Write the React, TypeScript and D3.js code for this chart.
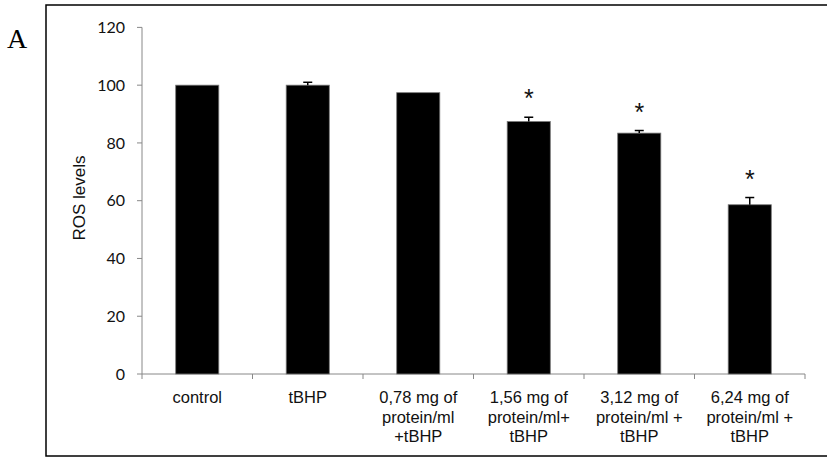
import React from "react";
import * as d3 from "d3";

const categories: string[][] = [
  ["control"],
  ["tBHP"],
  ["0,78 mg of", "protein/ml", "+tBHP"],
  ["1,56 mg of", "protein/ml+", "tBHP"],
  ["3,12 mg of", "protein/ml +", "tBHP"],
  ["6,24 mg of", "protein/ml +", "tBHP"],
];
const values = [100, 100, 97.4, 87.4, 83.4, 58.6];
const errors = [0, 1, 0, 1.5, 0.9, 2.5];
const significant = [false, false, false, true, true, true];
const yTicks = [0, 20, 40, 60, 80, 100, 120];

export default function App() {
  const W = 827, H = 461;
  const x0 = 142, x1 = 805, yTop = 27.4, yBot = 374;
  const x = d3.scaleBand<number>().domain(d3.range(categories.length)).range([x0, x1]).paddingInner(0.61).paddingOuter(0.305);
  const y = d3.scaleLinear().domain([0, 120]).range([yBot, yTop]);
  const step = (x1 - x0) / categories.length;
  const axisColor = "#888";
  return (
    <svg width={W} height={H} style={{ position: "absolute", left: 0, top: 0 }}>
      <rect x={0} y={0} width={W} height={H} fill="#fff" />
      <rect x={46} y={5} width={W} height={451} fill="none" stroke="#000" strokeWidth={1.5} />
      <text x={7} y={48} fontFamily="Liberation Serif, serif" fontSize={28}>A</text>
      {/* y axis */}
      <line x1={x0} x2={x0} y1={yTop} y2={yBot} stroke={axisColor} strokeWidth={1} />
      {yTicks.map((t) => (
        <g key={t}>
          <line x1={x0 - 5} x2={x0} y1={y(t)} y2={y(t)} stroke={axisColor} />
          <text x={125} y={y(t)} dy="0.36em" textAnchor="end" fontFamily="Lato, Open Sans, sans-serif" fontSize={16} fill="#111">{t}</text>
        </g>
      ))}
      <text transform={`translate(85,${198}) rotate(-90)`} textAnchor="middle" fontFamily="Liberation Sans, Arial, sans-serif" fontSize={17} fill="#111">ROS levels</text>
      {/* x axis */}
      <line x1={x0} x2={x1} y1={yBot} y2={yBot} stroke={axisColor} />
      {d3.range(categories.length + 1).map((i) => (
        <line key={i} x1={x0 + i * step} x2={x0 + i * step} y1={yBot} y2={yBot + 5} stroke={axisColor} />
      ))}
      {values.map((v, i) => {
        const bx = x(i)!;
        const bw = x.bandwidth();
        const cx = bx + bw / 2;
        return (
          <g key={i}>
            <rect x={bx} y={y(v)} width={bw} height={yBot - y(v)} fill="#000" stroke="#777" strokeWidth={0.8} />
            {errors[i] > 0 && (
              <g stroke="#000" strokeWidth={1.5}>
                <line x1={cx} x2={cx} y1={y(v)} y2={y(v + errors[i])} />
                <line x1={cx - 4.5} x2={cx + 4.5} y1={y(v + errors[i])} y2={y(v + errors[i])} />
              </g>
            )}
            {significant[i] && (
              <text x={cx} y={y(v + errors[i]) - 10} textAnchor="middle" fontFamily="Liberation Sans, Arial, sans-serif" fontSize={25} fill="#111">*</text>
            )}
            {categories[i].map((line, j) => (
              <text key={j} x={x0 + (i + 0.5) * step} y={403 + j * 19.5} textAnchor="middle" fontFamily="Liberation Sans, Arial, sans-serif" fontSize={16.5} fill="#111">{line}</text>
            ))}
          </g>
        );
      })}
    </svg>
  );
}
